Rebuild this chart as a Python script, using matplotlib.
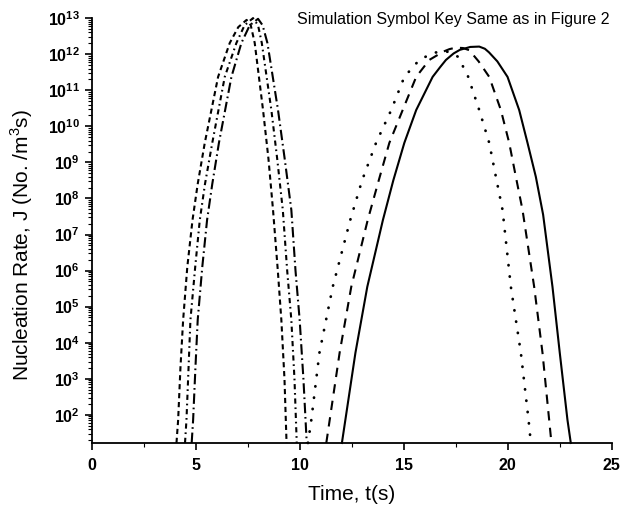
import matplotlib

matplotlib.use("Agg")
import matplotlib.pyplot as plt
import numpy as np
from matplotlib.ticker import FixedLocator, FixedFormatter, LogLocator, MultipleLocator, NullFormatter

plt.rcParams["font.family"] = ["Liberation Sans", "DejaVu Sans"]
plt.rcParams["mathtext.fontset"] = "custom"
plt.rcParams["mathtext.rm"] = "Liberation Sans"
plt.rcParams["mathtext.bf"] = "Liberation Sans:bold"

# log10 of nucleation rate J vs time, early group (three runs)
t_a = [4.08, 4.16, 4.27, 4.40, 4.60, 4.85, 5.10, 5.44, 6.08, 6.64, 7.05, 7.45, 7.65, 7.84, 8.24, 8.50, 8.72, 8.95, 9.12, 9.27, 9.37]
j_a = [1.22, 1.86, 3.30, 4.63, 6.10, 7.40, 8.40, 9.54, 11.37, 12.31, 12.75, 12.95, 12.80, 12.31, 10.45, 9.10, 7.68, 6.00, 4.63, 3.00, 1.22]

t_b = [4.49, 4.56, 4.66, 4.75, 4.98, 5.20, 5.45, 5.80, 6.40, 6.96, 7.35, 7.76, 8.00, 8.18, 8.64, 8.92, 9.19, 9.40, 9.60, 9.75, 9.86]
j_b = [1.22, 1.86, 3.30, 4.63, 6.10, 7.40, 8.40, 9.54, 11.37, 12.31, 12.80, 13.00, 12.80, 12.31, 10.45, 9.10, 7.68, 6.00, 4.63, 3.00, 1.22]

t_c = [4.81, 4.88, 4.99, 5.10, 5.32, 5.55, 5.80, 6.12, 6.72, 7.20, 7.60, 8.00, 8.22, 8.45, 8.96, 9.28, 9.60, 9.80, 10.00, 10.18, 10.34]
j_c = [1.22, 1.86, 3.30, 4.63, 6.10, 7.40, 8.40, 9.54, 11.37, 12.31, 12.80, 12.98, 12.80, 12.31, 10.45, 9.10, 7.68, 6.00, 4.63, 3.00, 1.22]

# later group: dotted, dashed and solid runs
t_d = [10.40, 10.56, 10.95, 11.59, 12.43, 13.00, 13.67, 14.40, 15.03, 15.75, 16.40, 16.75, 17.00, 17.30, 17.60, 18.07, 18.63, 19.11, 19.43, 19.75, 20.15, 20.63, 21.00, 21.11]
j_d = [1.22, 1.86, 3.72, 5.55, 7.40, 8.50, 9.54, 10.45, 11.37, 11.84, 12.03, 12.07, 12.08, 12.04, 11.93, 11.42, 10.45, 9.54, 8.60, 7.68, 5.55, 3.72, 1.86, 1.22]

t_e = [11.28, 11.92, 12.48, 13.27, 13.80, 14.31, 14.95, 15.60, 16.23, 16.90, 17.20, 17.50, 17.85, 18.15, 18.60, 19.11, 19.67, 20.07, 20.39, 20.71, 21.27, 21.67, 21.99, 22.10]
j_e = [1.22, 3.72, 5.55, 7.40, 8.50, 9.54, 10.45, 11.37, 11.84, 12.07, 12.14, 12.18, 12.17, 12.11, 11.80, 11.37, 10.45, 9.54, 8.60, 7.68, 5.55, 3.72, 1.86, 1.22]

t_f = [12.03, 12.68, 13.25, 14.00, 14.50, 15.03, 15.60, 16.39, 16.75, 17.03, 17.40, 17.70, 18.20, 18.63, 18.90, 19.10, 19.50, 19.99, 20.55, 20.95, 21.35, 21.70, 22.15, 22.50, 22.87, 23.03]
j_f = [1.22, 3.72, 5.55, 7.40, 8.50, 9.54, 10.45, 11.37, 11.64, 11.84, 12.02, 12.12, 12.20, 12.21, 12.15, 12.05, 11.80, 11.37, 10.45, 9.54, 8.60, 7.55, 5.55, 3.72, 1.86, 1.22]

y_decades = list(range(2, 14))

fig = plt.figure(figsize=(6.23, 5.08), dpi=100)
ax = fig.add_axes([0.147, 0.128, 0.835, 0.837])

curves = [
    (t_a, j_a, (0, (2.5, 1.8)), "butt"),
    (t_b, j_b, (0, (2.5, 1.8, 0.8, 1.8)), "butt"),
    (t_c, j_c, (0, (5, 1.8, 0.8, 1.8)), "butt"),
    (t_d, j_d, (0, (0.1, 4.0)), "round"),
    (t_e, j_e, (0, (4.5, 3.5)), "butt"),
    (t_f, j_f, "-", "butt"),
]
for t, j, ls, cap in curves:
    lw = 2.0 if cap == "round" else 1.5
    ax.plot(t, 10 ** np.array(j), color="black", lw=lw, linestyle=ls,
            dash_capstyle=cap, clip_on=False)

ax.set_yscale("log")
ax.set_xlim(0, 25)
ax.set_ylim(10 ** 1.22, 1.02e13)

ax.yaxis.set_major_locator(FixedLocator([10.0 ** k for k in y_decades]))
ax.yaxis.set_major_formatter(FixedFormatter([r"$\mathbf{10^{%d}}$" % k for k in y_decades]))
ax.yaxis.set_minor_locator(LogLocator(base=10, subs=np.arange(2, 10), numticks=30))
ax.yaxis.set_minor_formatter(NullFormatter())
ax.xaxis.set_major_locator(MultipleLocator(5))
ax.xaxis.set_minor_locator(MultipleLocator(2.5))

for side in ["top", "right"]:
    ax.spines[side].set_visible(False)
for side in ["left", "bottom"]:
    ax.spines[side].set_linewidth(1.3)

ax.tick_params(which="major", direction="out", length=5, width=1.2, labelsize=11.5)
ax.tick_params(axis="x", which="major", pad=6)
ax.tick_params(which="minor", direction="out", length=3, width=0.8)
for lab in ax.get_xticklabels():
    lab.set_fontweight("bold")

ax.set_xlabel("Time, t(s)", fontsize=15)
ax.set_ylabel(r"Nucleation Rate, J (No. /m$^3$s)", fontsize=15)
ax.xaxis.set_label_coords(0.5, -0.098)
ax.yaxis.set_label_coords(-0.108, 0.465)

fig.text(0.477, 0.961, "Simulation Symbol Key Same as in Figure 2", fontsize=11.5, va="center", ha="left")

fig.savefig("out.png", dpi=100)
